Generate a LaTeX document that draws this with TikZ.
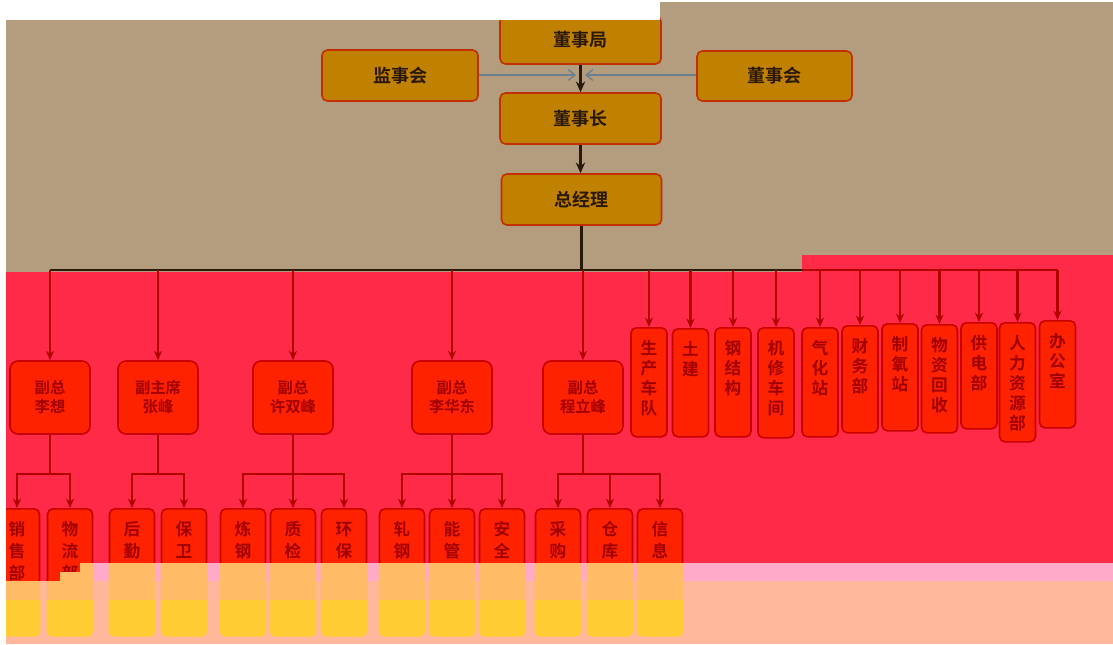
\documentclass[tikz,border=0pt]{standalone}
\usepackage{fontspec}
\setmainfont{Noto Sans CJK SC}[BoldFont={Noto Sans CJK SC Bold}]
\usetikzlibrary{arrows.meta}
\definecolor{bgtan}{HTML}{B39D7E}\definecolor{bgred}{HTML}{FF2A48}
\definecolor{boxred}{HTML}{FF2200}\definecolor{edgered}{HTML}{C80000}
\definecolor{txtred}{HTML}{A00000}\definecolor{arrred}{HTML}{B00000}
\definecolor{gold}{HTML}{C08000}\definecolor{goldedge}{HTML}{C03000}
\definecolor{dark}{HTML}{2A1808}\definecolor{steel}{HTML}{6A7F8F}
\definecolor{pinkb}{HTML}{FFAAC8}\definecolor{salm}{HTML}{FFB89C}
\definecolor{peach}{HTML}{FFBB66}\definecolor{yel}{HTML}{FFCC33}
\tikzset{>=Stealth,
gbox/.style={draw=goldedge,fill=gold,line width=1.2pt,rounded corners=4pt,inner sep=0pt,font=\fontsize{13.5}{15}\selectfont\bfseries,text=dark},
vp/.style={draw=edgered,fill=boxred,line width=1.2pt,rounded corners=6pt,inner sep=0pt,minimum width=60pt,minimum height=54.75pt,align=center,font=\fontsize{11.5}{14.25}\selectfont\bfseries,text=txtred},
dep/.style 2 args={draw=edgered,fill=boxred,line width=1.2pt,rounded corners=4pt,inner sep=0pt,anchor=north,minimum width=27pt,align=center,text height=#1,text depth=#2,font=\fontsize{12.5}{15}\selectfont\bfseries,text=txtred},
unit/.style 2 args={dep={#1}{#2},minimum width=33.75pt,font=\fontsize{12.5}{16.5}\selectfont\bfseries},
dk/.style={draw=dark,line width=2.2pt,-{Stealth[length=8pt,width=7pt]}},
gr/.style={draw=steel,line width=1pt,-{Straight Barb[length=5pt,width=8pt]}},
dl/.style={draw=dark,line width=1.6pt},rl/.style={draw=arrred,line width=1.6pt},
rd/.style={draw=arrred,line width=1.6pt,-{Stealth[length=7pt,width=6pt]}}}
\begin{document}
\begin{tikzpicture}[x=0.75pt,y=-0.75pt]
\useasboundingbox (0,0) rectangle (1113,644);
% backgrounds
\fill[bgtan] (6,2) rectangle (1113,272);
\fill[bgred] (6,272)--(802,272)--(802,255)--(1113,255)--(1113,563)--(80,563)--(80,572)--(60,572)--(60,581)--(6,581)--cycle;
% top levels
\node[gbox,minimum width=120.75pt,minimum height=36pt] (dsj) at (580.5,40) {董事局};
\node[gbox,minimum width=117pt,minimum height=38.25pt] (jsh) at (400,75.5) {监事会};
\node[gbox,minimum width=116.25pt,minimum height=37.5pt] (dsh) at (774.5,76) {董事会};
\node[gbox,minimum width=120.75pt,minimum height=38.25pt] (dsz) at (580.5,118.5) {董事长};
\node[gbox,minimum width=120pt,minimum height=38.25pt] (zjl) at (581.5,199.5) {总经理};
% deputies
\foreach \n/\x/\t in {vp1/50/{副总\\李想},vp2/158/{副主席\\张峰},vp3/293/{副总\\许双峰},vp4/452/{副总\\李华东},vp5/583/{副总\\程立峰}}
  \node[vp] (\n) at (\x,397.5) {\t};
% departments
\foreach \n/\x/\y/\h/\d/\t in {d1/649/327/64.75pt/17pt/{生\\产\\车\\队},d2/690.5/328/34.75pt/46.25pt/{土\\建},d3/733/327/49.75pt/32pt/{钢\\结\\构},
  d4/776/327/64.75pt/17.75pt/{机\\修\\车\\间},d5/820/327/49.75pt/32pt/{气\\化\\站},d6/860/325/49.75pt/30.5pt/{财\\务\\部},
  d7/900/323/49.75pt/30.5pt/{制\\氧\\站},d8/939.5/324/64.75pt/16.25pt/{物\\资\\回\\收},d9/979/322/49.75pt/29.75pt/{供\\电\\部},
  d10/1017.5/322/79.75pt/9.5pt/{人\\力\\资\\源\\部},d11/1057.5/320/49.75pt/30.5pt/{办\\公\\室}}
  \node[dep={\h}{\d}] (\n) at (\x,\y) {\t};
\foreach \n/\x/\h/\d/\t in {b1/17/52.75pt/42.5pt/{销\\售\\部},b2/70/52.75pt/42.5pt/{物\\流\\部},b3/132/36.25pt/59pt/{后\\勤},
  b4/184/36.25pt/59pt/{保\\卫},b5/243/36.25pt/59pt/{炼\\钢},b6/293/36.25pt/59pt/{质\\检},b7/344/36.25pt/59pt/{环\\保},
  b8/402/36.25pt/59pt/{轧\\钢},b9/452/36.25pt/59pt/{能\\管},b10/502/36.25pt/59pt/{安\\全},b11/558/36.25pt/59pt/{采\\购},
  b12/610/36.25pt/59pt/{仓\\库},b13/660/36.25pt/59pt/{信\\息}}
  \node[unit={\h}{\d}] (\n) at (\x,508) {\t};
% connectors
\coordinate (mL) at (576,75);\coordinate (mR) at (585,75);
\draw[dk] (dsj.south) -- (dsz.north);\draw[gr] (mL -| jsh.east) -- (mL);\draw[gr] (mR -| dsh.west) -- (mR);
\draw[dk] (dsz.south) -- (dsz.south |- zjl.north);
\coordinate (bus) at (581.5,270);\coordinate (bk) at (802,270);\coordinate (sb) at (0,474);
\draw[dl] (zjl.south) -- (bus);\draw[dl] (vp1.north |- bus) -- (bk);\draw[rl] (bk) -- (d11.north |- bus);
\foreach \n in {vp1,vp2,vp3,vp4,vp5,d1,d2,d3,d4,d5,d6,d7,d8,d9,d10,d11} \draw[rd] (\n.north |- bus) -- (\n.north);
\foreach \p/\f/\l/\cs in {vp1/b1/b2/{b1,b2},vp2/b3/b4/{b3,b4},vp3/b5/b7/{b5,b6,b7},vp4/b8/b10/{b8,b9,b10},vp5/b11/b13/{b11,b12,b13}}{
  \draw[rl] (\p.south) -- (\p.south |- sb);\draw[rl,line cap=rect] (\f.north |- sb) -- (\l.north |- sb);
  \foreach \c in \cs \draw[rd] (\c.north |- sb) -- (\c.north);}
% faded bottom bands
\fill[pinkb] (60,581)--(60,572)--(80,572)--(80,563)--(1113,563)--(1113,581)--cycle;
\fill[salm] (6,581) rectangle (1113,644);
\begin{scope}
\clip (6,581)--(60,581)--(60,572)--(80,572)--(80,563)--(1113,563)--(1113,600)--(6,600)--cycle;
\foreach \n in {b1,b2,b3,b4,b5,b6,b7,b8,b9,b10,b11,b12,b13} \fill[peach,rounded corners=4pt] (\n.south west) rectangle (\n.north east);
\end{scope}
\begin{scope}
\clip (6,600) rectangle (1113,644);
\foreach \n in {b1,b2,b3,b4,b5,b6,b7,b8,b9,b10,b11,b12,b13} \fill[yel,rounded corners=4pt] (\n.south west) rectangle (\n.north east);
\end{scope}
\fill[white] (0,0) rectangle (660,20);\fill[white] (0,0) rectangle (6,644);
\end{tikzpicture}
\end{document}
